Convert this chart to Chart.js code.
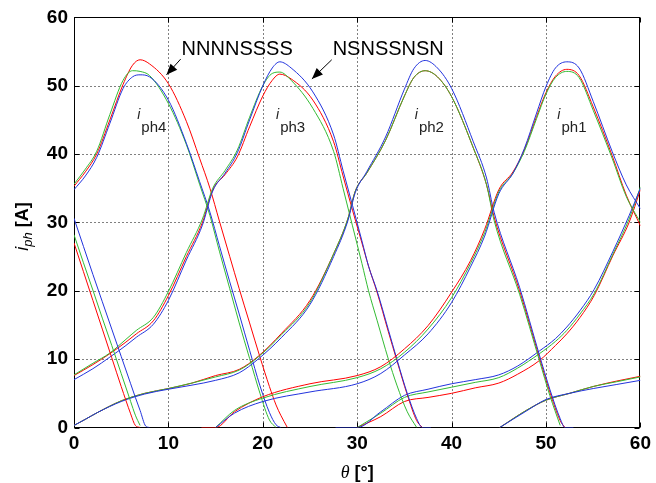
<!DOCTYPE html>
<html>
<head>
<meta charset="utf-8">
<script src="https://cdn.jsdelivr.net/npm/chart.js@4.4.1/dist/chart.umd.min.js"></script>
<style>
  html, body { margin: 0; padding: 0; background: #fff; }
  #wrap { width: 656px; height: 483px; }
</style>
</head>
<body>
<div id="wrap"><canvas id="chart"></canvas></div>
<script>
// tick labels
const xTicks = [0, 10, 20, 30, 40, 50, 60];
const yTicks = [0, 10, 20, 30, 40, 50, 60];

// phase 1 (peak near 52 deg), wraps round 60 -> 0
const thetaPh1 = [0, 1, 2, 3, 4, 5, 6, 6.5, 7, 7.6, 8, 10, 13.5, 15, 17, 20, 25, 30, 32.5, 35, 37.5, 40, 42, 43.5, 45, 46.5, 47.7, 49, 50, 51, 52.2, 53.5, 55, 57, 58.5, 60];
const redPh1   = [27.0, 22.8, 18.6, 14.4, 10.2, 6.0, 2.0, 0.3, 0, null, null, null, 0, 0, 2.3, 4.5, 6.4, 7.6, 8.9, 11.5, 14.9, 19.8, 24.4, 29.0, 34.8, 37.4, 40.6, 45.5, 49.0, 51.4, 52.4, 51.5, 46.9, 39.8, 34.0, 29.5];
const greenPh1 = [28.2, 24.1, 20.1, 16.0, 12.0, 7.9, 3.8, 1.8, 0.3, null, null, null, null, 0, 2.5, 4.3, 6.0, 7.3, 8.6, 11.0, 14.4, 19.0, 24.0, 28.5, 34.5, 37.2, 40.4, 45.2, 48.8, 51.2, 52.1, 51.2, 46.4, 39.4, 33.8, 30.0];
const bluePh1  = [30.6, 26.5, 22.4, 18.4, 14.4, 10.4, 6.4, 4.4, 2.5, 0.2, 0, null, null, 0, 2.1, 3.8, 5.2, 6.4, 7.9, 10.6, 13.7, 18.3, 23.5, 28.0, 34.2, 37.2, 40.8, 46.0, 49.9, 52.6, 53.5, 52.6, 47.7, 40.4, 35.5, 32.0];

// phase 2 (peak near 37 deg)
const thetaPh2 = [0, 1.2, 2.5, 5, 7.5, 10, 12.5, 15, 17.5, 19.5, 22, 25, 27.5, 29, 29.8, 31, 33, 35, 36, 37.2, 38.5, 40, 42.3, 43.7, 44.5, 47.2, 49.3, 50.4, 51.5, 52, 52.9];
const redPh2   = [0.3, 1.2, 2.2, 3.9, 5.0, 5.7, 6.5, 7.6, 8.5, 10.4, 13.8, 18.6, 25.4, 30.5, 34.6, 37.2, 42.0, 48.5, 51.2, 52.2, 51.3, 48.4, 40.9, 35.5, 30.8, 20.0, 10.2, 5.2, 1.0, 0, null];
const greenPh2 = [0.3, 1.2, 2.2, 3.9, 5.0, 5.7, 6.5, 7.4, 8.4, 10.3, 13.6, 18.3, 25.4, 30.5, 34.6, 37.2, 42.0, 48.5, 51.2, 52.2, 51.3, 48.4, 40.9, 35.5, 30.3, 19.5, 9.8, 4.7, 0.3, null, null];
const bluePh2  = [0.3, 1.2, 2.2, 3.8, 4.9, 5.6, 6.2, 6.9, 8.0, 10.0, 13.2, 18.0, 25.0, 30.2, 34.4, 37.4, 42.5, 49.5, 52.5, 53.7, 52.6, 49.6, 41.8, 36.5, 31.5, 20.5, 10.6, 5.6, 1.3, 0, 0];

// phase 3 (peak near 22 deg), starts at 45
const thetaPh3 = [0, 2, 3.8, 5.5, 6.6, 8.4, 10, 11.9, 13.6, 14.7, 16, 17.3, 18.6, 20, 21, 21.8, 23, 25.3, 27.5, 28.5, 29.5, 30.5, 31.2, 32.1, 33.3, 34.2, 35.3, 36.3, 36.9, 37.8, 40, 45.1, 47.9, 50, 52.5, 55, 57.5, 60];
const redPh3   = [7.6, 9.2, 10.8, 12.5, 13.7, 15.6, 19.3, 25.0, 30.0, 34.8, 37.0, 39.6, 44.0, 48.5, 50.8, 51.7, 51.0, 47.9, 41.8, 36.8, 31.8, 27.0, 23.6, 19.8, 14.0, 9.8, 4.8, 1.0, 0, null, null, 0, 2.5, 4.0, 5.0, 6.0, 6.8, 7.5];
const greenPh3 = [7.7, 9.4, 10.9, 12.9, 14.2, 16.1, 19.9, 25.6, 30.5, 35.0, 37.6, 40.6, 45.4, 50.0, 51.8, 52.0, 50.8, 46.7, 40.4, 35.0, 29.5, 24.0, 20.0, 15.7, 10.0, 6.2, 2.3, 0, null, null, null, 0, 2.5, 4.0, 5.0, 6.0, 6.7, 7.4];
const bluePh3  = [7.0, 8.6, 10.3, 12.0, 13.2, 15.1, 18.6, 24.5, 29.6, 34.6, 37.2, 40.2, 45.0, 50.0, 52.6, 53.5, 52.6, 49.1, 42.8, 37.6, 32.5, 27.3, 23.6, 20.0, 14.3, 10.0, 5.0, 1.3, 0, 0, null, 0, 2.4, 4.1, 5.0, 5.7, 6.3, 6.9];

// phase 4 (peak near 7 deg), starts at 30
const thetaPh4 = [0, 1.2, 2.4, 3.8, 5.2, 6.2, 7, 8, 10, 11.9, 13.3, 14.4, 15.4, 16.5, 17.5, 18.6, 19.7, 20.7, 21.4, 21.9, 22.6, 25, 27.7, 30, 32.5, 35, 37.5, 40, 42.5, 45, 47, 49.3, 51, 52.2, 53.6, 55.1, 57.1, 58.8, 60];
const redPh4   = [35.3, 37.4, 40.0, 45.0, 50.2, 53.0, 53.8, 53.2, 50.3, 44.8, 39.4, 35.0, 30.2, 25.0, 20.3, 15.3, 10.3, 6.0, 3.3, 1.8, 0, null, null, 0, 1.6, 3.8, 4.4, 5.0, 5.8, 6.5, 7.8, 9.8, 12.0, 13.7, 16.1, 19.3, 25.2, 30.0, 34.8];
const greenPh4 = [35.6, 37.8, 40.4, 45.8, 50.8, 52.2, 52.1, 51.5, 47.4, 41.4, 35.6, 31.0, 25.8, 20.3, 15.3, 10.1, 5.0, 1.1, 0, null, null, null, null, 0, 2.1, 4.4, 5.2, 5.9, 6.6, 7.3, 8.7, 10.8, 12.6, 14.2, 16.6, 19.6, 25.4, 30.5, 35.2];
const bluePh4  = [34.8, 36.8, 39.5, 44.5, 49.6, 51.3, 51.6, 51.3, 47.9, 41.6, 36.0, 31.5, 26.6, 21.3, 16.6, 11.3, 6.1, 2.2, 0.4, 0, null, null, 0, 0, 2.3, 4.7, 5.6, 6.4, 7.0, 7.7, 9.0, 11.2, 13.0, 14.7, 17.1, 20.2, 25.8, 31.0, 35.0];

// labels
const phaseNames = ['ph4', 'ph3', 'ph2', 'ph1'];
const phaseLabelTheta = [6.7, 21.4, 36.1, 51.2];
const phaseLabelA = 45;
const poleNames = ['NNNNSSSS', 'NSNSSNSN'];
const poleTextAt = [[11.4, 54.5], [27.4, 54.5]];
const poleArrowFrom = [[11.3, 53.9], [27.3, 53.8]];
const poleArrowTo = [[9.8, 51.6], [25.2, 51.0]];

const colors = { red: '#ff0000', green: '#33bb33', blue: '#2233dd' };
const phases = [
  [thetaPh1, redPh1, greenPh1, bluePh1],
  [thetaPh2, redPh2, greenPh2, bluePh2],
  [thetaPh3, redPh3, greenPh3, bluePh3],
  [thetaPh4, redPh4, greenPh4, bluePh4]
];

const datasets = [];
phases.forEach(([theta, r, g, b]) => {
  [[b, colors.blue], [g, colors.green], [r, colors.red]].forEach(([vals, col]) => {
    datasets.push({
      data: theta.map((t, i) => ({ x: t, y: vals[i] })),
      borderColor: col,
      borderWidth: 1,
      pointRadius: 0,
      fill: false,
      cubicInterpolationMode: 'monotone',
      spanGaps: false
    });
  });
});

const tickFont = { family: '"Liberation Sans", Arial, sans-serif', size: 19, weight: 'bold' };

// dotted grid, box, inward ticks, texts
const matlabLook = {
  id: 'matlabLook',
  beforeDatasetsDraw(chart) {
    const { ctx, chartArea: a, scales: { x, y } } = chart;
    const L = Math.round(a.left) + 0.5, R = Math.round(a.right) - 0.5;
    const T = Math.round(a.top) + 0.5, B = Math.round(a.bottom) - 0.5;
    ctx.save();
    ctx.strokeStyle = '#000';
    ctx.lineWidth = 1;
    ctx.setLineDash([1, 3]);
    xTicks.slice(1, -1).forEach(v => {
      const px = Math.round(x.getPixelForValue(v)) + 0.5;
      ctx.beginPath(); ctx.moveTo(px, T); ctx.lineTo(px, B); ctx.stroke();
    });
    yTicks.slice(1, -1).forEach(v => {
      const py = Math.round(y.getPixelForValue(v)) + 0.5;
      ctx.beginPath(); ctx.moveTo(L, py); ctx.lineTo(R, py); ctx.stroke();
    });
    ctx.setLineDash([]);
    ctx.strokeRect(L, T, R - L, B - T);
    xTicks.forEach(v => {
      const px = Math.round(x.getPixelForValue(v)) + 0.5;
      ctx.beginPath();
      ctx.moveTo(px, B); ctx.lineTo(px, B - 5);
      ctx.moveTo(px, T); ctx.lineTo(px, T + 5);
      ctx.stroke();
    });
    yTicks.forEach(v => {
      const py = Math.round(y.getPixelForValue(v)) + 0.5;
      ctx.beginPath();
      ctx.moveTo(L, py); ctx.lineTo(L + 5, py);
      ctx.moveTo(R, py); ctx.lineTo(R - 5, py);
      ctx.stroke();
    });
    ctx.restore();
  },
  afterDatasetsDraw(chart) {
    const { ctx, chartArea: a, scales: { x, y } } = chart;
    ctx.save();
    ctx.fillStyle = '#000';
    ctx.strokeStyle = '#000';
    ctx.textBaseline = 'alphabetic';

    // pole arrangement notes with arrows
    ctx.font = '20px "Liberation Sans", Arial, sans-serif';
    poleNames.forEach((txt, i) => {
      ctx.fillText(txt, x.getPixelForValue(poleTextAt[i][0]), y.getPixelForValue(poleTextAt[i][1]));
      const x0 = x.getPixelForValue(poleArrowFrom[i][0]), y0 = y.getPixelForValue(poleArrowFrom[i][1]);
      const x1 = x.getPixelForValue(poleArrowTo[i][0]), y1 = y.getPixelForValue(poleArrowTo[i][1]);
      const ang = Math.atan2(y1 - y0, x1 - x0);
      const hl = 11, hw = 4.5;
      ctx.lineWidth = 1;
      ctx.beginPath(); ctx.moveTo(x0, y0); ctx.lineTo(x1, y1); ctx.stroke();
      ctx.beginPath();
      ctx.moveTo(x1, y1);
      ctx.lineTo(x1 - hl * Math.cos(ang) + hw * Math.sin(ang), y1 - hl * Math.sin(ang) - hw * Math.cos(ang));
      ctx.lineTo(x1 - hl * Math.cos(ang) - hw * Math.sin(ang), y1 - hl * Math.sin(ang) + hw * Math.cos(ang));
      ctx.closePath();
      ctx.fill();
    });

    // i_ph labels
    ctx.fillStyle = '#222';
    phaseNames.forEach((n, i) => {
      const px = x.getPixelForValue(phaseLabelTheta[i]);
      const py = y.getPixelForValue(phaseLabelA);
      ctx.font = 'italic 14px "Liberation Sans", Arial, sans-serif';
      ctx.fillText('i', px, py - 1);
      const w = ctx.measureText('i').width;
      ctx.font = '15px "Liberation Sans", Arial, sans-serif';
      ctx.fillText(n, px + w + 1, py + 12);
    });

    // x title: theta [deg]
    ctx.fillStyle = '#000';
    const th = 'θ', unit = ' [°]';
    ctx.font = 'italic 18px "Liberation Serif", serif';
    const w1 = ctx.measureText(th).width;
    ctx.font = 'bold 18px "Liberation Sans", Arial, sans-serif';
    const w2 = ctx.measureText(unit).width;
    const cx = (a.left + a.right) / 2;
    const bx = cx - (w1 + w2) / 2, by = 478;
    ctx.font = 'italic 18px "Liberation Serif", serif';
    ctx.fillText(th, bx, by);
    ctx.font = 'bold 18px "Liberation Sans", Arial, sans-serif';
    ctx.fillText(unit, bx + w1, by);

    // y title: i_ph [A]
    ctx.translate(28, (a.top + a.bottom) / 2 + 4);
    ctx.rotate(-Math.PI / 2);
    ctx.font = 'italic 18px "Liberation Sans", Arial, sans-serif';
    const wi = ctx.measureText('i').width;
    ctx.font = 'italic 13px "Liberation Sans", Arial, sans-serif';
    const wp = ctx.measureText('ph').width;
    ctx.font = 'bold 18px "Liberation Sans", Arial, sans-serif';
    const wa = ctx.measureText(' [A]').width;
    let sx = -(wi + wp + wa) / 2;
    ctx.font = 'italic 18px "Liberation Sans", Arial, sans-serif';
    ctx.fillText('i', sx, 0);
    sx += wi;
    ctx.font = 'italic 13px "Liberation Sans", Arial, sans-serif';
    ctx.fillText('ph', sx, 4);
    sx += wp;
    ctx.font = 'bold 18px "Liberation Sans", Arial, sans-serif';
    ctx.fillText(' [A]', sx, 0);
    ctx.restore();
  }
};

new Chart(document.getElementById('chart'), {
  type: 'line',
  data: { datasets },
  options: {
    responsive: true,
    maintainAspectRatio: false,
    animation: false,
    devicePixelRatio: 1,
    layout: { padding: { top: 15, right: 13, left: 0, bottom: 0 } },
    plugins: { legend: { display: false }, tooltip: { enabled: false } },
    scales: {
      x: {
        type: 'linear',
        min: 0,
        max: 60,
        afterBuildTicks: s => { s.ticks = xTicks.map(v => ({ value: v })); },
        ticks: { color: '#000', font: tickFont, padding: 5, maxRotation: 0 },
        grid: { display: false, drawTicks: false },
        border: { display: false },
        afterFit: s => { s.height = 55.5; }
      },
      y: {
        type: 'linear',
        min: 0,
        max: 60,
        afterBuildTicks: s => { s.ticks = yTicks.map(v => ({ value: v })); },
        ticks: { color: '#000', font: tickFont, padding: 6 },
        grid: { display: false, drawTicks: false },
        border: { display: false },
        afterFit: s => { s.width = 74; }
      }
    }
  },
  plugins: [matlabLook]
});
</script>
</body>
</html>
